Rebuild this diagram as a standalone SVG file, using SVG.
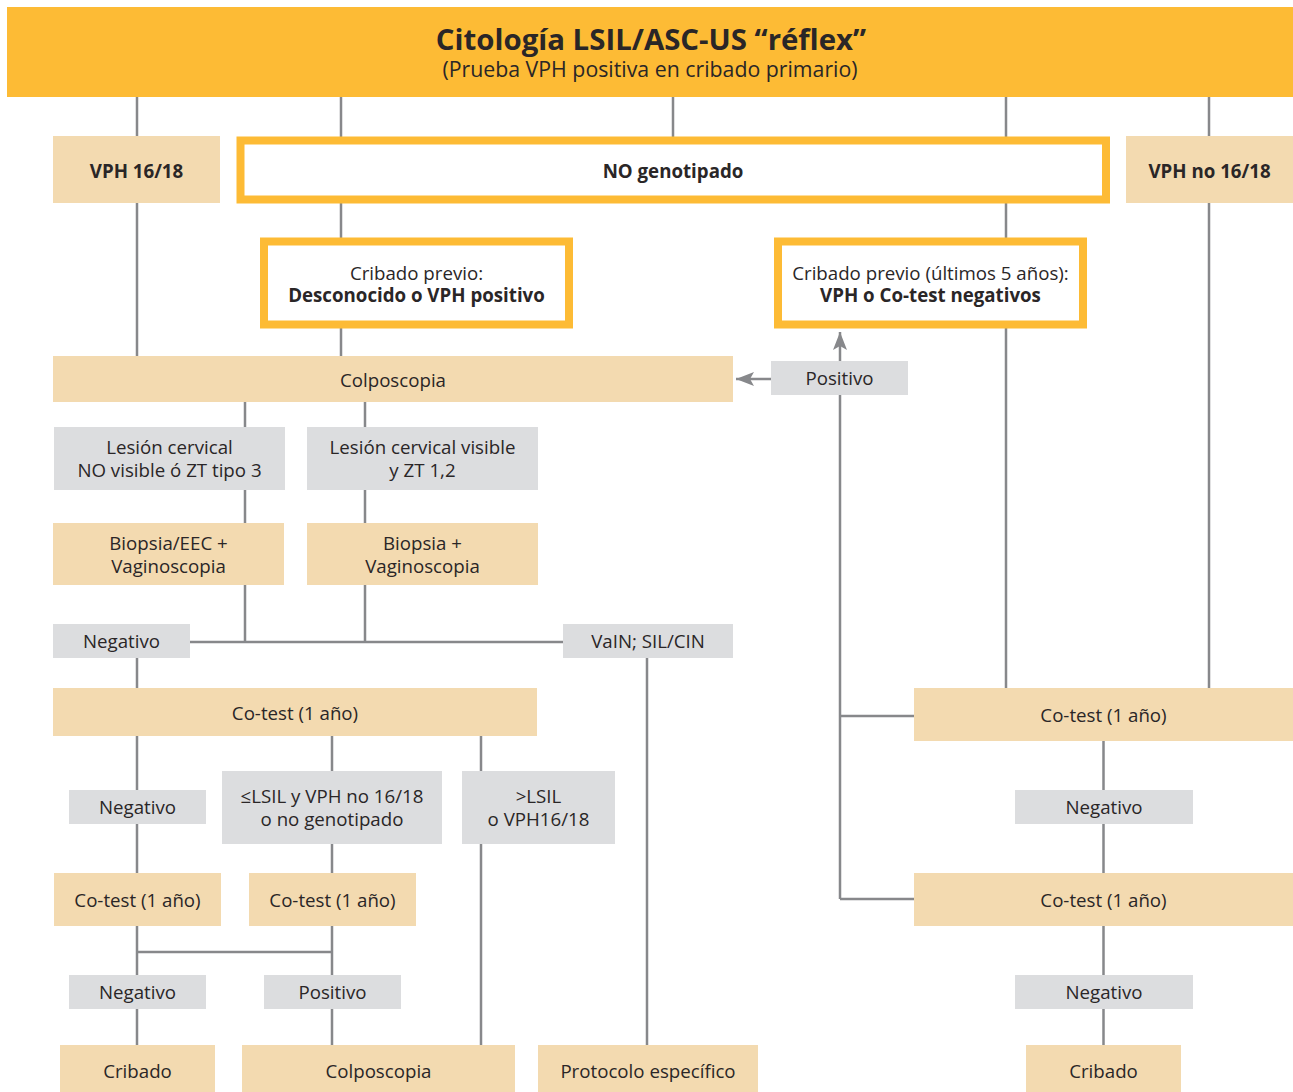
<svg xmlns="http://www.w3.org/2000/svg" width="1293" height="1092" viewBox="0 0 1293 1092">
<defs>
<style>
text{font-family:"Open Sans","Noto Sans","Liberation Sans",sans-serif;fill:#2a2627;text-anchor:middle;font-size:18.7px}
.b{font-weight:bold}
.beige{fill:#F3DAB0}
.gray{fill:#DCDDDF}
.yel{fill:#FFFFFF;stroke:#FDBB35;stroke-width:8}
.ln{stroke:#87888B;stroke-width:2.5;fill:none}
</style>
<marker id="ah" markerUnits="userSpaceOnUse" markerWidth="18" markerHeight="14" viewBox="0 0 18 14" refX="18" refY="7" orient="auto">
<path d="M0,0 L18,7 L0,14 L4,7 Z" fill="#87888B"/>
</marker>
</defs>
<rect width="1293" height="1092" fill="#FFFFFF"/>
<g id="connectors">
<path class="ln" d="M137,97V136 M137,203V356 M341,97V137 M341,203V238 M341,328V356 M673,97V137 M1006,97V137 M1006,203V238 M1006,328V688 M1209,97V136 M1209,203V688"/>
<path class="ln" d="M245,402V427 M245,490V523 M245,585V642 M365,402V427 M365,490V523 M365,585V642 M190,642H563"/>
<path class="ln" d="M137,658V688 M647,658V1045"/>
<path class="ln" d="M840,395V899 M840,716H914 M840,899H914"/>
<path class="ln" d="M840,361V332" marker-end="url(#ah)"/>
<path class="ln" d="M771,379H736" marker-end="url(#ah)"/>
<path class="ln" d="M1103.5,741V790 M1103.5,824V873 M1103.5,926V975 M1103.5,1009V1045"/>
<path class="ln" d="M137,736V790 M137,824V873 M137,926V975 M137,1009V1045 M332,736V771 M332,844V873 M332,926V975 M332,1009V1045 M137,952H332 M481,736V771 M481,844V1045"/>
</g>
<g id="header">
<rect x="7" y="7" width="1286" height="90" fill="#FDBB35"/>
<text x="651" y="50" class="b" style="font-size:29.4px">Citología LSIL/ASC-US “réflex”</text>
<text x="650" y="77" style="font-size:21.3px">(Prueba VPH positiva en cribado primario)</text>
</g>
<g id="vph1618"><rect class="beige" x="53" y="136" width="167" height="67"/><text class="b" x="136.5" y="178">VPH 16/18</text></g>
<g id="nogenotipado"><rect class="yel" x="240.5" y="140.5" width="865.5" height="59"/><text class="b" x="673" y="178">NO genotipado</text></g>
<g id="vphno1618"><rect class="beige" x="1126" y="136" width="167" height="67"/><text class="b" x="1209.5" y="178">VPH no 16/18</text></g>
<g id="cribadoDesc"><rect class="yel" x="264" y="241.5" width="305" height="83"/><text x="416.5" y="280">Cribado previo:</text><text class="b" x="416.5" y="302">Desconocido o VPH positivo</text></g>
<g id="cribadoNeg"><rect class="yel" x="778" y="241.5" width="305" height="83"/><text x="930.5" y="280">Cribado previo (últimos 5 años):</text><text class="b" x="930.5" y="302">VPH o Co-test negativos</text></g>
<g id="colpo1"><rect class="beige" x="53" y="356" width="680" height="46"/><text x="393" y="387">Colposcopia</text></g>
<g id="positivo1"><rect class="gray" x="771" y="361" width="137" height="34"/><text x="839.5" y="385">Positivo</text></g>
<g id="lesionNo"><rect class="gray" x="54" y="427" width="231" height="63"/><text x="169.5" y="454">Lesión cervical</text><text x="169.5" y="477">NO visible ó ZT tipo 3</text></g>
<g id="lesionSi"><rect class="gray" x="307" y="427" width="231" height="63"/><text x="422.5" y="454">Lesión cervical visible</text><text x="422.5" y="477">y ZT 1,2</text></g>
<g id="biopsiaEEC"><rect class="beige" x="53" y="523" width="231" height="62"/><text x="168.5" y="550">Biopsia/EEC +</text><text x="168.5" y="573">Vaginoscopia</text></g>
<g id="biopsia"><rect class="beige" x="307" y="523" width="231" height="62"/><text x="422.5" y="550">Biopsia +</text><text x="422.5" y="573">Vaginoscopia</text></g>
<g id="negativo1"><rect class="gray" x="53" y="624" width="137" height="34"/><text x="121.5" y="648">Negativo</text></g>
<g id="vain"><rect class="gray" x="563" y="624" width="170" height="34"/><text x="648" y="648">VaIN; SIL/CIN</text></g>
<g id="cotestL"><rect class="beige" x="53" y="688" width="484" height="48"/><text x="295" y="720">Co-test (1 año)</text></g>
<g id="cotestR1"><rect class="beige" x="914" y="688" width="379" height="53"/><text x="1103.5" y="722">Co-test (1 año)</text></g>
<g id="negativo2"><rect class="gray" x="69" y="790" width="137" height="34"/><text x="137.5" y="814">Negativo</text></g>
<g id="lsilMenor"><rect class="gray" x="222" y="771" width="220" height="73"/><text x="332" y="803">≤LSIL y VPH no 16/18</text><text x="332" y="826">o no genotipado</text></g>
<g id="lsilMayor"><rect class="gray" x="462" y="771" width="153" height="73"/><text x="538.5" y="803">&gt;LSIL</text><text x="538.5" y="826">o VPH16/18</text></g>
<g id="negativoR1"><rect class="gray" x="1015" y="790" width="178" height="34"/><text x="1104" y="814">Negativo</text></g>
<g id="cotestA"><rect class="beige" x="54" y="873" width="167" height="53"/><text x="137.5" y="907">Co-test (1 año)</text></g>
<g id="cotestB"><rect class="beige" x="249" y="873" width="167" height="53"/><text x="332.5" y="907">Co-test (1 año)</text></g>
<g id="cotestR2"><rect class="beige" x="914" y="873" width="379" height="53"/><text x="1103.5" y="907">Co-test (1 año)</text></g>
<g id="negativo3"><rect class="gray" x="69" y="975" width="137" height="34"/><text x="137.5" y="999">Negativo</text></g>
<g id="positivo2"><rect class="gray" x="264" y="975" width="137" height="34"/><text x="332.5" y="999">Positivo</text></g>
<g id="negativoR2"><rect class="gray" x="1015" y="975" width="178" height="34"/><text x="1104" y="999">Negativo</text></g>
<g id="cribadoL"><rect class="beige" x="60" y="1045" width="155" height="47"/><text x="137.5" y="1078">Cribado</text></g>
<g id="colpo2"><rect class="beige" x="242" y="1045" width="273" height="47"/><text x="378.5" y="1078">Colposcopia</text></g>
<g id="protocolo"><rect class="beige" x="538" y="1045" width="220" height="47"/><text x="648" y="1078">Protocolo específico</text></g>
<g id="cribadoR"><rect class="beige" x="1026" y="1045" width="155" height="47"/><text x="1103.5" y="1078">Cribado</text></g>
</svg>
